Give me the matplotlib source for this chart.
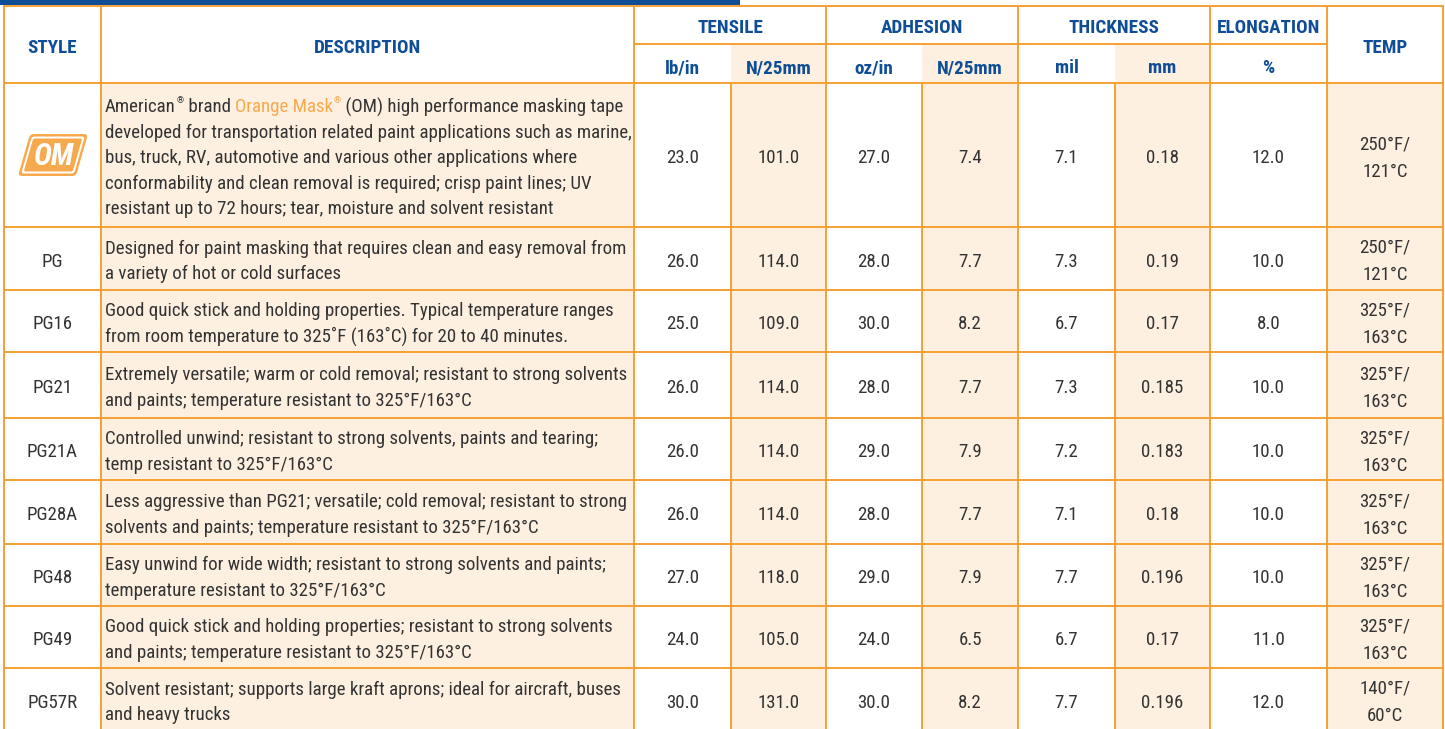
import matplotlib
matplotlib.use('Agg')
import matplotlib.pyplot as plt
from matplotlib import font_manager
from matplotlib.patches import Rectangle, FancyBboxPatch
from matplotlib.transforms import Affine2D

# datos de la tabla
styles = ['OM', 'PG', 'PG16', 'PG21', 'PG21A', 'PG28A', 'PG48', 'PG49', 'PG57R']
descriptions = [
    ['American® brand Orange Mask® (OM) high performance masking tape',
     'developed for transportation related paint applications such as marine,',
     'bus, truck, RV, automotive and various other applications where',
     'conformability and clean removal is required; crisp paint lines; UV',
     'resistant up to 72 hours; tear, moisture and solvent resistant'],
    ['Designed for paint masking that requires clean and easy removal from',
     'a variety of hot or cold surfaces'],
    ['Good quick stick and holding properties. Typical temperature ranges',
     'from room temperature to 325˚F (163˚C) for 20 to 40 minutes.'],
    ['Extremely versatile; warm or cold removal; resistant to strong solvents',
     'and paints; temperature resistant to 325°F/163°C'],
    ['Controlled unwind; resistant to strong solvents, paints and tearing;',
     'temp resistant to 325°F/163°C'],
    ['Less aggressive than PG21; versatile; cold removal; resistant to strong',
     'solvents and paints; temperature resistant to 325°F/163°C'],
    ['Easy unwind for wide width; resistant to strong solvents and paints;',
     'temperature resistant to 325°F/163°C'],
    ['Good quick stick and holding properties; resistant to strong solvents',
     'and paints; temperature resistant to 325°F/163°C'],
    ['Solvent resistant; supports large kraft aprons; ideal for aircraft, buses',
     'and heavy trucks'],
]
tensile_lb = [23.0, 26.0, 25.0, 26.0, 26.0, 26.0, 27.0, 24.0, 30.0]
tensile_n = [101.0, 114.0, 109.0, 114.0, 114.0, 114.0, 118.0, 105.0, 131.0]
adhesion_oz = [27.0, 28.0, 30.0, 28.0, 29.0, 28.0, 29.0, 24.0, 30.0]
adhesion_n = [7.4, 7.7, 8.2, 7.7, 7.9, 7.7, 7.9, 6.5, 8.2]
thick_mil = [7.1, 7.3, 6.7, 7.3, 7.2, 7.1, 7.7, 6.7, 7.7]
thick_mm = [0.18, 0.19, 0.17, 0.185, 0.183, 0.18, 0.196, 0.17, 0.196]
elongation = [12.0, 10.0, 8.0, 10.0, 10.0, 10.0, 10.0, 11.0, 12.0]
temp = ['250°F/\n121°C', '250°F/\n121°C', '325°F/\n163°C', '325°F/\n163°C', '325°F/\n163°C',
        '325°F/\n163°C', '325°F/\n163°C', '325°F/\n163°C', '140°F/\n60°C']

groups = ['TENSILE', 'ADHESION', 'THICKNESS', 'ELONGATION']
units = ['lb/in', 'N/25mm', 'oz/in', 'N/25mm', 'mil', 'mm', '%']

# colores
naranja = '#F5A034'
crema = '#FDF0E1'
azul = '#0F4E97'
gris = '#333333'
naranja_claro = '#F7A94E'

# fuente condensada si existe
disponibles = {f.name for f in font_manager.fontManager.ttflist}
fuente = 'DejaVu Sans'
for cand in ['Roboto Condensed', 'Liberation Sans Narrow', 'Roboto']:
    if cand in disponibles:
        fuente = cand
        break
plt.rcParams['font.family'] = [fuente, 'DejaVu Sans']

fig = plt.figure(figsize=(14.45, 7.29), dpi=100)
ax = fig.add_axes([0, 0, 1, 1])
ax.set_xlim(0, 1445)
ax.set_ylim(729, 0)
ax.axis('off')

# bordes de columnas y filas (pixeles)
xs = [4, 101, 634, 731, 826, 922, 1018, 1115, 1210, 1327, 1443]
top, mid, hdr = 6, 44, 83
ys = [hdr, 227, 290, 352, 418, 480, 544, 606, 668, 740]
bottom = 740

# barra azul superior
ax.add_patch(Rectangle((0, 0), 740, 5, color=azul, lw=0))

# columnas sombreadas
for i in [3, 5, 7]:
    ax.add_patch(Rectangle((xs[i], mid), xs[i + 1] - xs[i], bottom - mid, color=crema, lw=0))
for i in [1, 9]:
    ax.add_patch(Rectangle((xs[i], hdr), xs[i + 1] - xs[i], bottom - hdr, color=crema, lw=0))

# lineas
lw = 1.4
ax.plot([xs[0], xs[-1]], [top, top], color=naranja, lw=lw)
ax.plot([xs[2], xs[9]], [mid, mid], color=naranja, lw=lw)
for y in ys[:-1]:
    ax.plot([xs[0], xs[-1]], [y, y], color=naranja, lw=lw)
for i in [0, 1, 2, 4, 6, 8, 9, 10]:
    ax.plot([xs[i], xs[i]], [top, bottom], color=naranja, lw=lw)
for i in [3, 5, 7]:
    ax.plot([xs[i], xs[i]], [hdr, bottom], color=naranja, lw=lw)

# encabezados
hfs = 13.8
ax.text((xs[0] + xs[1]) / 2, 48, 'STYLE', ha='center', va='center', color=azul, fontsize=hfs, fontweight='bold')
ax.text((xs[1] + xs[2]) / 2, 48, 'DESCRIPTION', ha='center', va='center', color=azul, fontsize=hfs, fontweight='bold')
ax.text((xs[9] + xs[10]) / 2, 48, 'TEMP', ha='center', va='center', color=azul, fontsize=hfs, fontweight='bold')
gx = [(xs[2], xs[4]), (xs[4], xs[6]), (xs[6], xs[8]), (xs[8], xs[9])]
for g, (a, b) in zip(groups, gx):
    ax.text((a + b) / 2, 28, g, ha='center', va='center', color=azul, fontsize=hfs, fontweight='bold')
ucx = [(xs[2] + xs[3]) / 2, (xs[3] + xs[4]) / 2, (xs[4] + xs[5]) / 2, (xs[5] + xs[6]) / 2,
       (xs[6] + xs[7]) / 2, (xs[7] + xs[8]) / 2, (xs[8] + xs[9]) / 2]
for u, cx in zip(units, ucx):
    ax.text(cx, 68, u, ha='center', va='center', color=azul, fontsize=hfs, fontweight='bold')

# cuerpo
bfs = 13.6
lh = 25.5
renderer = fig.canvas.get_renderer()
cols = [tensile_lb, tensile_n, adhesion_oz, adhesion_n, thick_mil, thick_mm, elongation]
for r in range(len(styles)):
    y0, y1 = ys[r], ys[r + 1]
    if r == len(styles) - 1:
        y1 = 731
    cy = (y0 + y1) / 2 + 3
    lines = descriptions[r]
    n = len(lines)
    for k, line in enumerate(lines):
        ly = cy + (k - (n - 1) / 2) * lh
        if r == 0 and k == 0:
            # primera linea con marca registrada y texto naranja
            partes = [('American', gris, False), ('®', gris, True), (' brand ', gris, False),
                      ('Orange Mask', naranja_claro, False), ('®', naranja_claro, True),
                      (' (OM) high performance masking tape', gris, False)]
            x = 105
            for txt, c, sup in partes:
                if sup:
                    t = ax.text(x + 0.5, ly - 6, txt, ha='left', va='center', color=c, fontsize=6.5)
                else:
                    t = ax.text(x, ly, txt, ha='left', va='center', color=c, fontsize=bfs)
                ext = t.get_window_extent(renderer)
                x = ext.x1 + (0.5 if sup else 0)
        else:
            ax.text(105, ly, line, ha='left', va='center', color=gris, fontsize=bfs)
    if r > 0:
        ax.text((xs[0] + xs[1]) / 2, cy, styles[r], ha='center', va='center', color=gris, fontsize=bfs)
    for cx, col in zip(ucx, cols):
        ax.text(cx, cy, str(col[r]), ha='center', va='center', color=gris, fontsize=bfs)
    ax.text((xs[9] + xs[10]) / 2, cy, temp[r], ha='center', va='center', color=gris,
            fontsize=bfs, linespacing=1.65)

# logo OM
lx0, lx1, ly0, ly1 = 24, 82, 134, 176
lxc, lyc = (lx0 + lx1) / 2, (ly0 + ly1) / 2
sk = Affine2D().translate(-lxc, -lyc).skew_deg(-16, 0).translate(lxc, lyc) + ax.transData
for ins, c in [(0, naranja_claro), (2.5, 'white'), (4.5, naranja_claro)]:
    ax.add_patch(FancyBboxPatch((lx0 + ins, ly0 + ins), (lx1 - lx0) - 2 * ins, (ly1 - ly0) - 2 * ins,
                                boxstyle='round,pad=0,rounding_size=%g' % max(4 - ins / 2, 1.5),
                                color=c, lw=0, transform=sk))
ax.text(lxc + 1, lyc + 1, 'OM', ha='center', va='center', color='white', fontsize=22,
        fontweight='bold', fontstyle='italic')

fig.savefig('out.png', dpi=100)
